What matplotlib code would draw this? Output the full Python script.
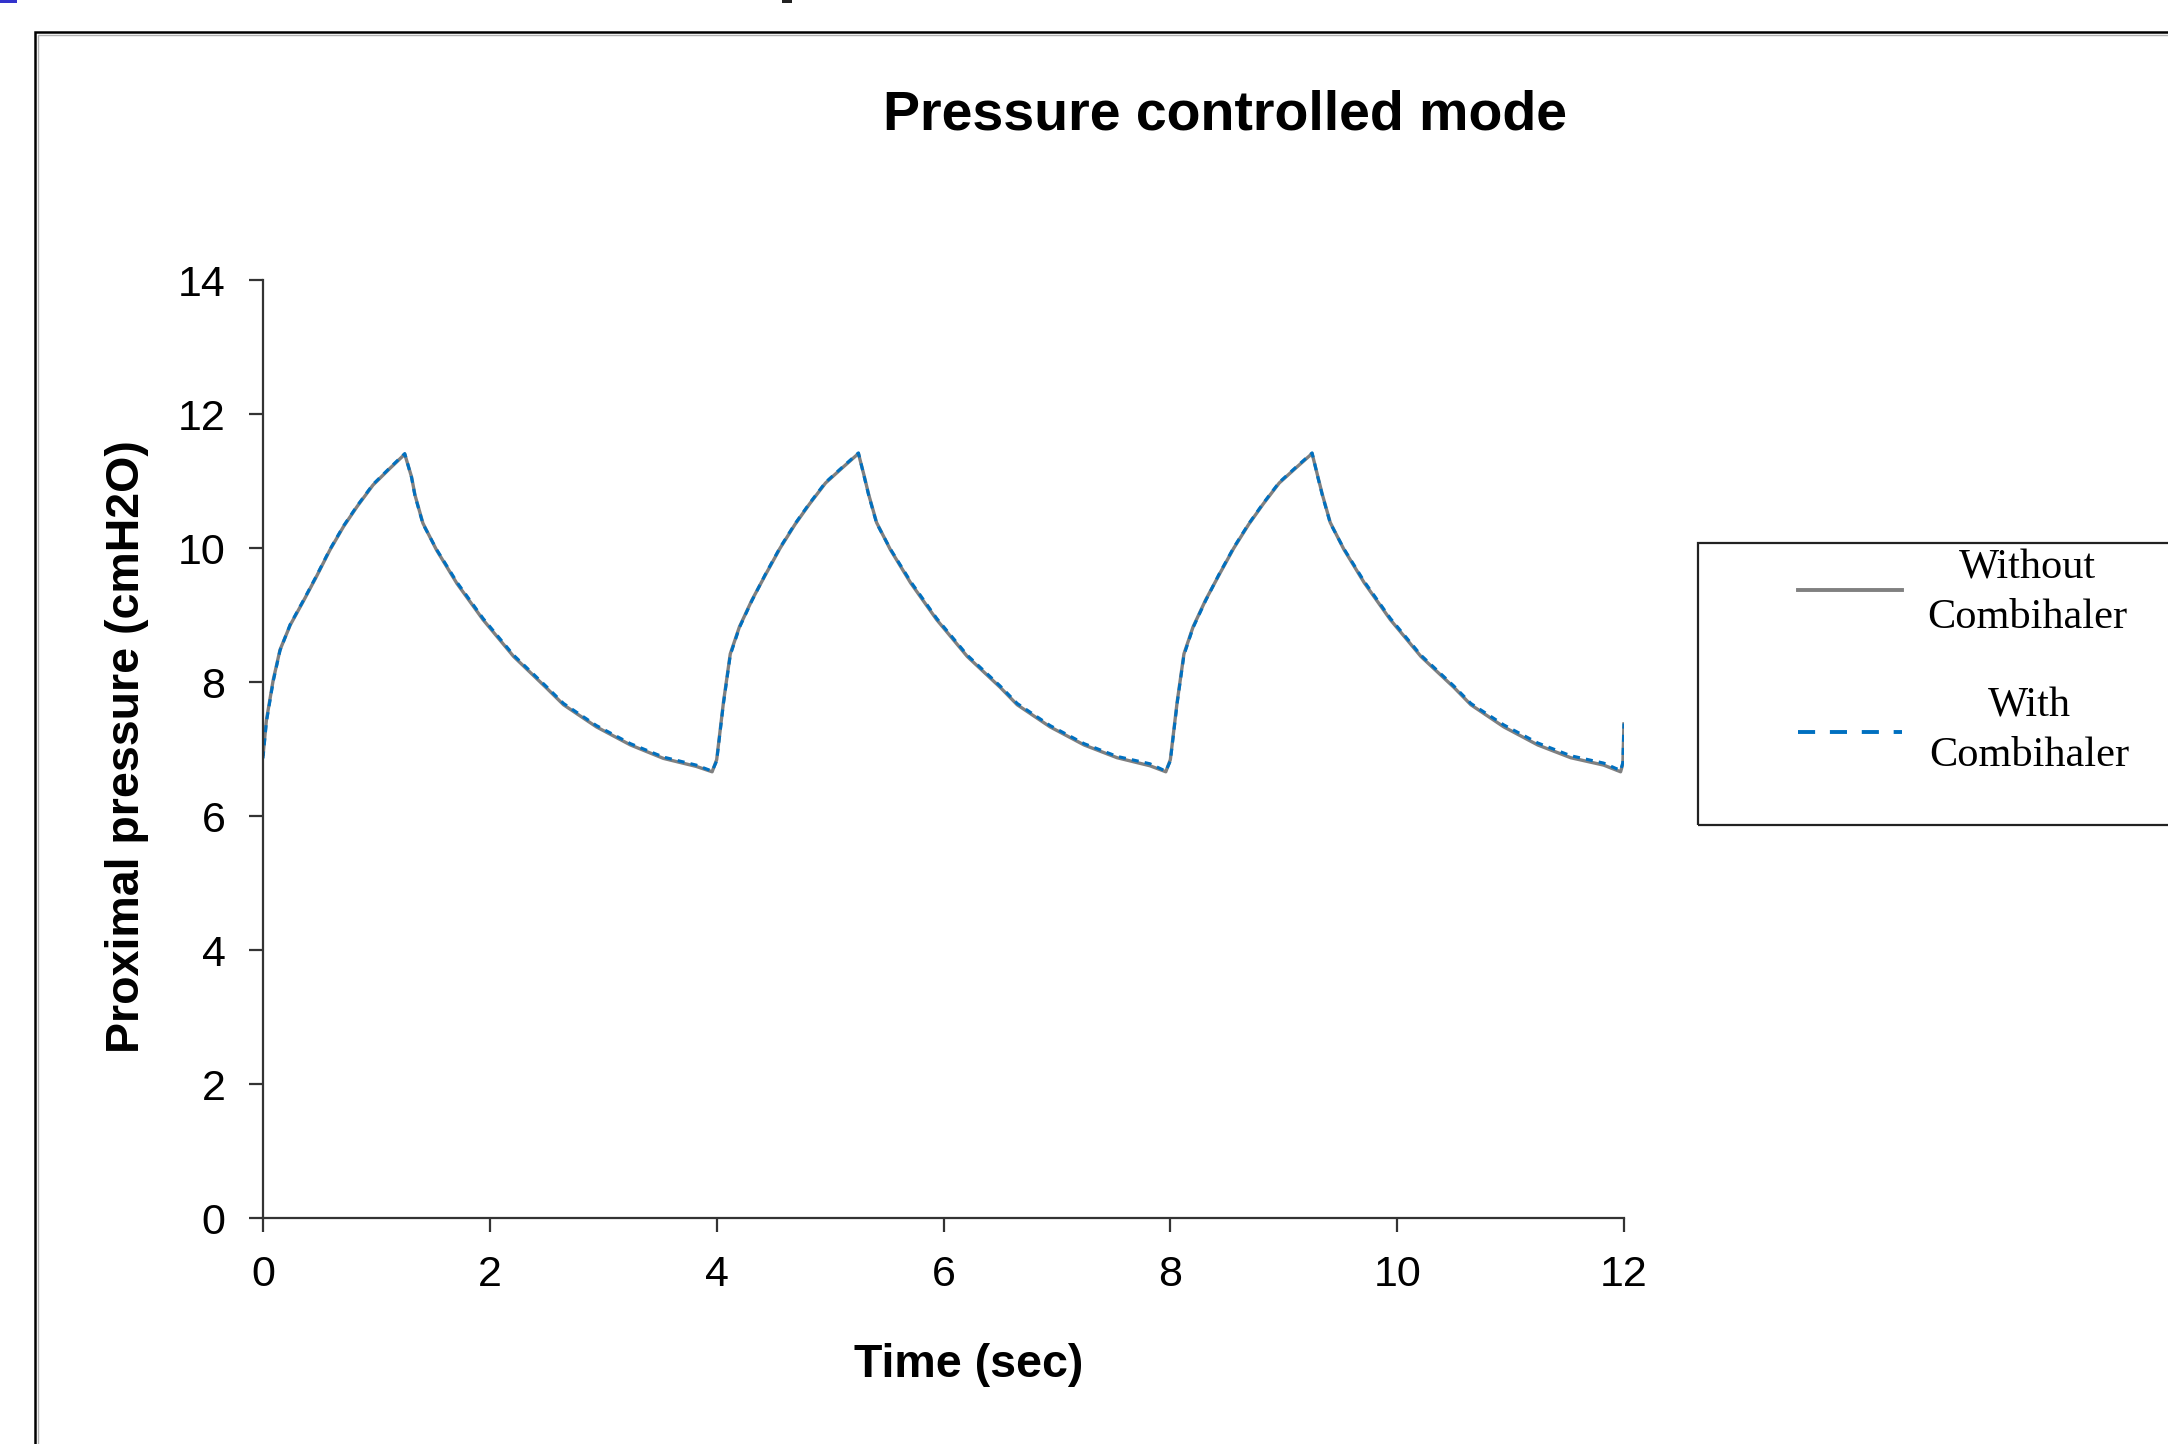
import matplotlib
matplotlib.use("Agg")
from matplotlib import pyplot as plt
from matplotlib.lines import Line2D
from matplotlib.patches import Rectangle

# three breaths of ~4 s
time_sec = [0.00, 0.03, 0.09, 0.15, 0.24, 0.36, 0.47, 0.59, 0.71, 0.83, 0.97, 1.12, 1.25,
            1.31, 1.34, 1.41, 1.53, 1.71, 1.94, 2.21, 2.50, 2.65, 2.94, 3.24, 3.53, 3.82, 3.96,
            4.00, 4.06, 4.12, 4.20, 4.31, 4.43, 4.56, 4.69, 4.82, 4.96, 5.11, 5.25,
            5.30, 5.34, 5.41, 5.53, 5.71, 5.94, 6.21, 6.50, 6.65, 6.94, 7.24, 7.53, 7.82, 7.96,
            8.00, 8.06, 8.12, 8.20, 8.31, 8.43, 8.56, 8.69, 8.82, 8.96, 9.11, 9.25,
            9.30, 9.34, 9.41, 9.53, 9.71, 9.94, 10.21, 10.50, 10.65, 10.94, 11.24, 11.53, 11.82, 11.97,
            11.99, 12.00]

without_combihaler = [6.90, 7.43, 8.03, 8.48, 8.85, 9.22, 9.57, 9.97, 10.32, 10.62, 10.94, 11.19, 11.40,
                      11.06, 10.79, 10.37, 9.97, 9.47, 8.93, 8.38, 7.91, 7.66, 7.33, 7.06, 6.86, 6.74, 6.66,
                      6.84, 7.70, 8.42, 8.82, 9.22, 9.60, 10.00, 10.35, 10.66, 10.97, 11.20, 11.41,
                      11.08, 10.80, 10.38, 9.98, 9.48, 8.93, 8.38, 7.92, 7.66, 7.33, 7.06, 6.87, 6.75, 6.66,
                      6.84, 7.70, 8.42, 8.82, 9.22, 9.60, 10.00, 10.35, 10.66, 10.97, 11.20, 11.41,
                      11.07, 10.80, 10.38, 9.98, 9.48, 8.93, 8.38, 7.92, 7.66, 7.33, 7.06, 6.87, 6.76, 6.66,
                      6.78, 7.40]

with_combihaler = [6.86, 7.40, 8.01, 8.47, 8.86, 9.23, 9.58, 9.98, 10.33, 10.63, 10.95, 11.20, 11.41,
                   11.05, 10.78, 10.36, 9.98, 9.49, 8.95, 8.40, 7.93, 7.68, 7.35, 7.08, 6.88, 6.76, 6.67,
                   6.82, 7.68, 8.40, 8.81, 9.21, 9.61, 10.01, 10.36, 10.67, 10.98, 11.21, 11.42,
                   11.07, 10.79, 10.37, 9.99, 9.50, 8.95, 8.40, 7.94, 7.68, 7.35, 7.08, 6.89, 6.78, 6.67,
                   6.82, 7.68, 8.40, 8.81, 9.21, 9.61, 10.01, 10.36, 10.67, 10.98, 11.21, 11.42,
                   11.06, 10.79, 10.37, 9.99, 9.50, 8.95, 8.40, 7.94, 7.68, 7.36, 7.09, 6.90, 6.79, 6.68,
                   6.80, 7.38]

x_ticks = [0, 2, 4, 6, 8, 10, 12]
y_ticks = [0, 2, 4, 6, 8, 10, 12, 14]

W, H = 2168, 1444
fig = plt.figure(figsize=(W / 100, H / 100), dpi=100)
ax = fig.add_axes([263 / W, 1 - 1218 / H, (1624 - 263) / W, (1218 - 280) / H])

ax.plot(time_sec, without_combihaler, color="#808080", lw=2.4, solid_capstyle="butt")
blue, = ax.plot(time_sec, with_combihaler, color="#0070C0", lw=2.2)
blue.set_dashes((2.3, 2.0))

ax.set_xlim(0, 12)
ax.set_ylim(0, 14)
ax.set_xticks(x_ticks)
ax.set_yticks(y_ticks)
for s in ["top", "right"]:
    ax.spines[s].set_visible(False)
for s in ["left", "bottom"]:
    ax.spines[s].set_color("#333333")
    ax.spines[s].set_linewidth(1.6)
ax.tick_params(direction="out", length=10, width=1.6, color="#333333",
               labelsize=31, pad=17)
for lab in ax.get_xticklabels() + ax.get_yticklabels():
    lab.set_fontfamily("Liberation Sans")

fig.text(1225 / W, 1 - 115 / H, "Pressure controlled mode", ha="center", va="center",
         fontsize=40, fontweight="bold", family="Liberation Sans")
fig.text(969 / W, 1 - 1365 / H, "Time (sec)", ha="center", va="center",
         fontsize=33.5, fontweight="bold", family="Liberation Sans")
fig.text(127 / W, 1 - 747 / H, "Proximal pressure (cmH2O)", ha="center", va="center",
         rotation=90, fontsize=33.5, fontweight="bold", family="Liberation Sans")

# legend box drawn by hand, it runs off the right edge
fig.patches.append(Rectangle((1698 / W, 1 - 825 / H), 600 / W, 282 / H, transform=fig.transFigure,
                             fill=False, edgecolor="#222222", lw=1.6))
fig.lines.append(Line2D([1798 / W, 1902 / W], [1 - 590 / H, 1 - 590 / H], transform=fig.transFigure,
                        color="#808080", lw=2.8))
leg_blue = Line2D([1798 / W, 1902 / W], [1 - 732 / H, 1 - 732 / H], transform=fig.transFigure,
                  color="#0070C0", lw=2.8)
leg_blue.set_dashes((4.4, 3.8))
fig.lines.append(leg_blue)
fig.text(2027 / W, 1 - 593 / H, "Without\nCombihaler", ha="center", va="center",
         fontsize=30.5, family="Liberation Serif", linespacing=1.38)
fig.text(2029 / W, 1 - 731 / H, "With\nCombihaler", ha="center", va="center",
         fontsize=30.5, family="Liberation Serif", linespacing=1.38)

# outer frame of the pasted figure
fig.patches.append(Rectangle((35 / W, -0.1), 1.2, 1.1 - 32 / H, transform=fig.transFigure,
                             fill=False, edgecolor="black", lw=1.8))
fig.patches.append(Rectangle((37.5 / W, -0.1), 1.2, 1.1 - 34.5 / H, transform=fig.transFigure,
                             fill=False, edgecolor="#b0b0b0", lw=1.0))
fig.patches.append(Rectangle((0, 1 - 3 / H), 17 / W, 3 / H, transform=fig.transFigure,
                             color="#3333cc", lw=0))
fig.patches.append(Rectangle((782 / W, 1 - 3 / H), 10 / W, 3 / H, transform=fig.transFigure,
                             color="#222222", lw=0))

fig.savefig("out.png", dpi=100)
